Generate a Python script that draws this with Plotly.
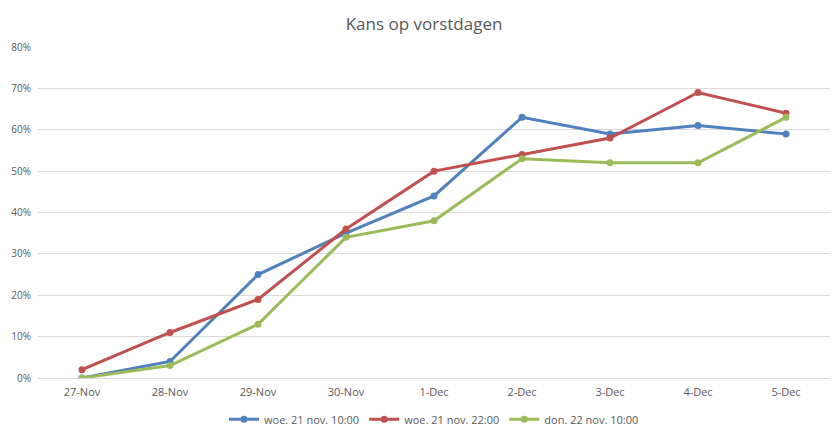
import plotly.graph_objects as go

# Data
dates = ['27-Nov', '28-Nov', '29-Nov', '30-Nov', '1-Dec', '2-Dec', '3-Dec', '4-Dec', '5-Dec']
woe_1000 = [0.00, 0.04, 0.25, 0.35, 0.44, 0.63, 0.59, 0.61, 0.59]
woe_2200 = [0.02, 0.11, 0.19, 0.36, 0.50, 0.54, 0.58, 0.69, 0.64]
don_1000 = [0.00, 0.03, 0.13, 0.34, 0.38, 0.53, 0.52, 0.52, 0.63]

series = [
    ('woe. 21 nov. 10:00', woe_1000, '#4F81BD'),
    ('woe. 21 nov. 22:00', woe_2200, '#C0504D'),
    ('don. 22 nov. 10:00', don_1000, '#9BBB59'),
]

fig = go.Figure()
for name, vals, color in series:
    fig.add_trace(go.Scatter(
        x=dates,
        y=vals,
        mode='lines+markers',
        name=name,
        line=dict(color=color, width=3),
        marker=dict(color=color, size=7),
    ))

# page body has an 8px margin, so the figure is sized 832x424
fig.update_layout(
    width=832,
    height=424,
    paper_bgcolor='white',
    plot_bgcolor='white',
    font=dict(family='Open Sans, Noto Sans, sans-serif', size=11, color='#595959'),
    title=dict(text='Kans op vorstdagen', x=0.5, xanchor='center',
               yref='container', y=0.962, yanchor='middle',
               font=dict(size=17, color='#595959')),
    margin=dict(l=30, r=10, t=39, b=54, autoexpand=False),
    showlegend=True,
    legend=dict(orientation='h', x=0.5, xanchor='center',
                yref='container', y=0.03, yanchor='middle',
                font=dict(size=11, color='#595959')),
    xaxis=dict(
        type='category',
        showgrid=False,
        showline=True,
        linecolor='#D9D9D9',
        ticks='',
        ticklabelstandoff=4,
        tickfont=dict(size=11, color='#595959'),
        range=[-0.5, len(dates) - 0.5],
    ),
    yaxis=dict(
        range=[0, 0.8],
        dtick=0.1,
        tickformat='.0%',
        showgrid=True,
        gridcolor='#D9D9D9',
        zeroline=False,
        ticks='',
        ticklabelstandoff=6,
        tickfont=dict(size=10, color='#595959'),
    ),
)

fig.write_html('out.html')
